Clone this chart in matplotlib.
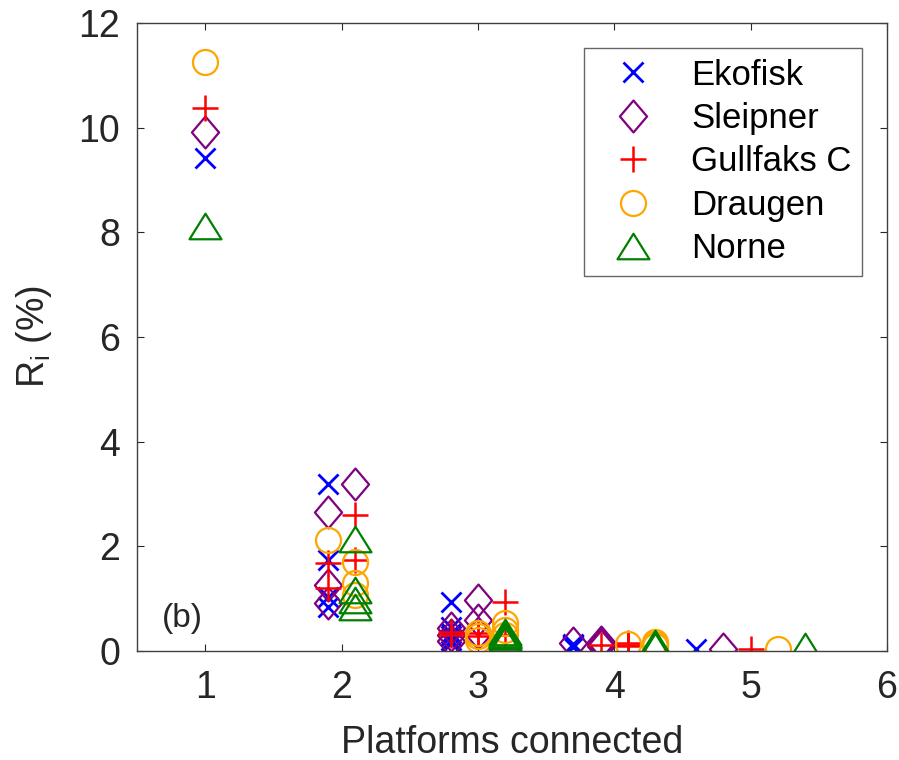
import matplotlib
matplotlib.use("Agg")
import matplotlib.pyplot as plt
from matplotlib.path import Path

plt.rcParams['font.family'] = ['Liberation Sans', 'DejaVu Sans']
plt.rcParams['mathtext.fontset'] = 'custom'
plt.rcParams['mathtext.rm'] = 'Liberation Sans'

platforms = ["Ekofisk", "Sleipner", "Gullfaks C", "Draugen", "Norne"]
colors = ["#0000FF", "#800080", "#FF0000", "#FFA500", "#008000"]

# x positions (platforms connected, with dodge) and R_i values (%) per platform
ekofisk_x = [1.0, 1.9, 1.9, 1.9, 1.9, 2.8, 2.8, 2.8, 2.8, 2.8, 2.8, 3.7, 3.7, 3.7, 3.7, 4.6]
ekofisk_y = [9.42, 3.19, 1.74, 1.03, 0.84, 0.93, 0.45, 0.35, 0.28, 0.22, 0.15, 0.14, 0.12, 0.10, 0.08, 0.04]
sleipner_x = [1.0, 1.9, 1.9, 1.9, 2.1, 3.0, 3.0, 2.8, 2.8, 2.8, 3.0, 3.7, 3.9, 3.9, 3.9, 4.8]
sleipner_y = [9.92, 2.66, 1.26, 0.92, 3.20, 0.97, 0.60, 0.44, 0.30, 0.20, 0.35, 0.15, 0.17, 0.13, 0.10, 0.04]
gullfaks_x = [1.0, 1.9, 1.9, 2.1, 2.1, 3.2, 2.8, 2.8, 3.0, 3.0, 3.2, 3.9, 4.1, 4.1, 4.1, 5.0]
gullfaks_y = [10.38, 1.68, 1.20, 2.60, 1.74, 0.94, 0.37, 0.30, 0.35, 0.28, 0.30, 0.12, 0.15, 0.12, 0.10, 0.04]
draugen_x = [1.0, 1.9, 2.1, 2.1, 2.1, 3.0, 3.0, 3.2, 3.2, 3.0, 3.2, 4.1, 4.3, 4.3, 4.3, 5.2]
draugen_y = [11.26, 2.12, 1.70, 1.30, 1.07, 0.34, 0.28, 0.53, 0.40, 0.22, 0.30, 0.13, 0.17, 0.14, 0.10, 0.04]
norne_x = [1.0, 2.1, 2.1, 2.1, 2.1, 3.2, 3.2, 3.2, 3.2, 3.2, 3.2, 4.3, 4.3, 4.3, 4.3, 5.4]
norne_y = [8.12, 2.15, 1.17, 0.97, 0.85, 0.37, 0.30, 0.25, 0.33, 0.28, 0.22, 0.15, 0.13, 0.11, 0.09, 0.10]

xticks = [1, 2, 3, 4, 5, 6]
yticks = [0, 2, 4, 6, 8, 10, 12]

diamond = Path([(0, 1), (0.85, 0), (0, -1), (-0.85, 0), (0, 1)],
               [Path.MOVETO, Path.LINETO, Path.LINETO, Path.LINETO, Path.CLOSEPOLY])
triangle = Path([(0, 0.8), (1, -0.8), (-1, -0.8), (0, 0.8)],
                [Path.MOVETO, Path.LINETO, Path.LINETO, Path.CLOSEPOLY])

styles = [
    dict(marker='x', ms=14, mew=2.0),
    dict(marker=diamond, ms=23, mew=1.6),
    dict(marker='+', ms=19, mew=1.8),
    dict(marker='o', ms=18, mew=1.6),
    dict(marker=triangle, ms=23, mew=1.6),
]
xs = [ekofisk_x, sleipner_x, gullfaks_x, draugen_x, norne_x]
ys = [ekofisk_y, sleipner_y, gullfaks_y, draugen_y, norne_y]

fig = plt.figure(figsize=(8.99, 7.6), dpi=100)
ax = fig.add_axes([0.1524, 0.1434, 0.8343, 0.8263])

for name, c, st, x, y in zip(platforms, colors, styles, xs, ys):
    ax.plot(x, y, linestyle='none', marker=st['marker'], ms=st['ms'],
            mew=st['mew'], mec=c, mfc='none', color=c, label=name)

ax.set_xlim(0.5, 6)
ax.set_ylim(0, 12)
ax.set_xticks(xticks)
ax.set_yticks(yticks)
ax.tick_params(direction='in', length=5, width=0.8, top=True, right=True,
               labelsize=27, colors='#262626')
ax.tick_params(axis='x', pad=14)
ax.tick_params(axis='y', pad=12)
for s in ax.spines.values():
    s.set_color('#404040')
    s.set_linewidth(1.0)

ax.set_xlabel('Platforms connected', fontsize=27, color='#262626', labelpad=13)
ax.set_ylabel(r'R$_\mathrm{i}$ (%)', fontsize=27, color='#262626', labelpad=18)

ax.text(0.83, 0.62, '(b)', fontsize=24, ha='center', va='center', color='#262626')

leg = ax.legend(loc='upper right', bbox_to_anchor=(0.9667, 0.960), borderaxespad=0,
                fontsize=25, frameon=True, fancybox=False, edgecolor='#404040',
                labelspacing=0.3, handletextpad=0.55, borderpad=0.3, handlelength=2.25)
leg.get_frame().set_linewidth(1.0)

fig.savefig('out.png', dpi=100)
